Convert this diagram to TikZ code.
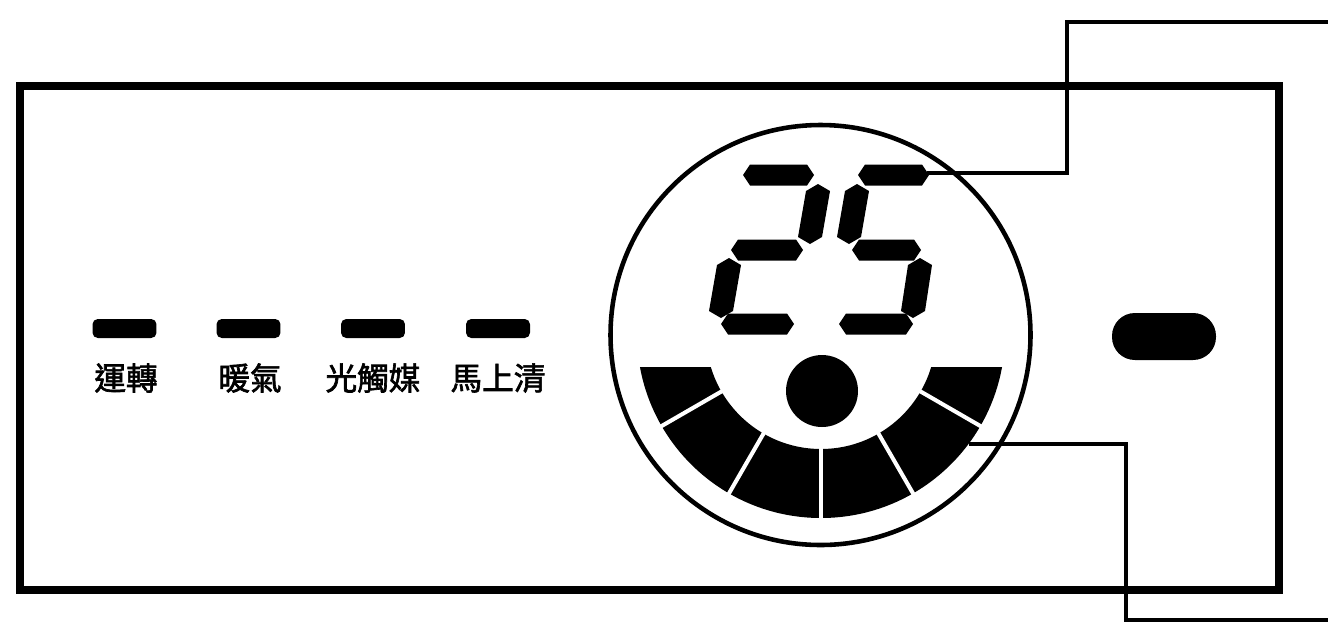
\documentclass[tikz,border=0pt]{standalone}
\usepackage{fontspec}
\newfontfamily\cjk[FakeBold=2]{Noto Sans CJK TC}
\usetikzlibrary{calc}
\tikzset{
	led/.style={fill=black, inner sep=0pt, minimum width=1.28cm, minimum height=0.38cm, rounded corners=3pt},
	lbl/.style={inner sep=0pt, font=\cjk\fontsize{18}{18}\selectfont},
	callout/.style={line width=2pt},
}
\def\hseg(#1,#2,#3){\fill (#1,#3) -- (#1+7,#3-10.5) -- (#2-7,#3-10.5) -- (#2,#3) -- (#2-7,#3+10.5) -- (#1+7,#3+10.5) -- cycle;}
\def\vseg(#1,#2)(#3,#4){\fill (#1,#2) -- (#1+12,#2+7) -- (#3+12,#4-7) -- (#3,#4) -- (#3-12,#4-7) -- (#1-12,#2+7) -- cycle;}

\begin{document}
\begin{tikzpicture}[x=0.02cm,y=-0.02cm]
				%%%%% START %%%%%
				\def\cx{820.5}
				\def\cy{335}
				\def\ax{821}
				\def\ay{334}
				\def\rout{184}
				\def\rin{115}

				\useasboundingbox (0,0) rectangle (1328,623);
				\draw[line width=4.2pt] (20,86) rectangle (1279,590);

				\node[led] (run) at (124.5,328.5) {};
				\node[led] (heat) at (248.5,328.5) {};
				\node[led] (photo) at (373,328.5) {};
				\node[led] (quick) at (498,328.5) {};
				\node[lbl] (runlbl) at (126,378) {運轉};
				\node[lbl] (heatlbl) at (250,378) {暖氣};
				\node[lbl] (photolbl) at (373,378) {光觸媒};
				\node[lbl] (quicklbl) at (498,378) {馬上清};

				\node[fill=black, inner sep=0pt, minimum width=2.08cm, minimum height=0.94cm, rounded corners=13pt] (btn) at (1164,336.5) {};

				\coordinate (ctr) at (\cx,\cy);
				\draw[line width=2.6pt] (ctr) circle (210);

				\begin{scope}
					\clip (600,367) rectangle (1050,560);
					\fill[even odd rule] (\ax,\ay) circle (\rout) (\ax,\ay) circle (\rin);
				\end{scope}
				\foreach \a in {30,60,...,150}
					\draw[white, line width=2.3pt] ($(\ax,\ay)+(\a:108)$) -- ($(\ax,\ay)+(\a:192)$);
				\node[circle, fill=black, inner sep=0pt, minimum size=1.44cm] (dot) at (822,391) {};

				% digit 2
				\hseg(743,814,175)
				\vseg(818,184)(810,244)
				\hseg(731,803,250)
				\vseg(729,258)(721,318)
				\hseg(721,794,324)
				% digit 5
				\hseg(858,929,175)
				\vseg(857,184)(849,244)
				\hseg(852,921,250)
				\vseg(920,258)(913,318)
				\hseg(839,913,324)

				\coordinate (fivetip) at (927,173);
				\coordinate (bendA) at (1067,22);
				\coordinate (tagA) at (1328,22);
				\draw[callout] (fivetip) -| (bendA) -- (tagA);

				\coordinate (segtip) at (969,444);
				\coordinate (bendB) at (1126,620);
				\coordinate (tagB) at (1328,620);
				\draw[callout] (segtip) -| (bendB) -- (tagB);
				%%%%% START %%%%%
\end{tikzpicture}
\end{document}
